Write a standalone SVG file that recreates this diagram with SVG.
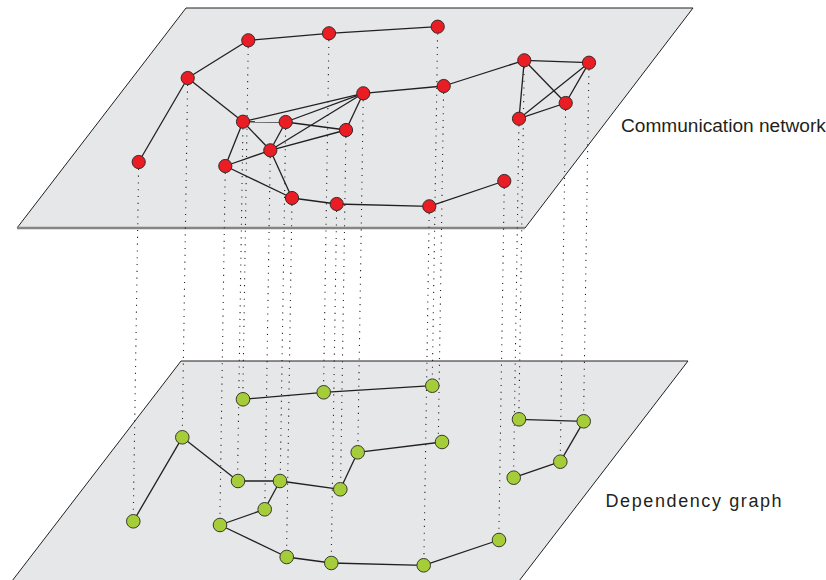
<svg xmlns="http://www.w3.org/2000/svg" width="826" height="580" viewBox="0 0 826 580">
  <style>
    .plane { fill: #e6e7e8; stroke: #231f20; stroke-width: 1; }
    .rim { stroke: #858585; stroke-width: 2.6; fill: none; }
    .edge { stroke: #231f20; stroke-width: 1.3; fill: none; }
    .link { stroke: #231f20; stroke-width: 1.1; stroke-dasharray: 1.1 5.7; fill: none; }
    .comm { fill: #ea1c24; stroke: #3a2a2a; stroke-width: 1; }
    .dep { fill: #a5cd39; stroke: #3a3a2a; stroke-width: 1; }
    .label { font-family: "Liberation Sans", Arial, sans-serif; fill: #231f20; }
  </style>

  <!-- layers -->
  <g id="planes">
    <polygon class="plane" points="181,361 688,361 519,581 12,581"/>
    <polygon class="plane" points="186,8 693,8 525,228 17,228"/>
    <line class="rim" x1="17" y1="228" x2="525" y2="228"/>
  </g>

  <!-- vertical mapping links between the two layers -->
  <g id="mapping" class="link">
    <line x1="248.3" y1="40.3" x2="242.8" y2="399.3"/>
    <line x1="329" y1="33.3" x2="323.5" y2="392.3"/>
    <line x1="437.7" y1="26.7" x2="432.2" y2="385.7"/>
    <line x1="187.7" y1="78" x2="182.2" y2="437"/>
    <line x1="138.7" y1="162" x2="133.2" y2="521"/>
    <line x1="363.3" y1="93.3" x2="357.8" y2="452.3"/>
    <line x1="443.7" y1="86" x2="438.2" y2="445"/>
    <line x1="243" y1="121.7" x2="237.5" y2="480.7"/>
    <line x1="285.7" y1="122" x2="280.2" y2="481"/>
    <line x1="346" y1="130" x2="340.5" y2="489"/>
    <line x1="270.3" y1="150.3" x2="264.8" y2="509.3"/>
    <line x1="225.3" y1="166" x2="219.8" y2="525"/>
    <line x1="292" y1="198" x2="286.5" y2="557"/>
    <line x1="336.7" y1="204" x2="331.2" y2="563"/>
    <line x1="429.3" y1="206.3" x2="423.8" y2="565.3"/>
    <line x1="524.3" y1="60.3" x2="518.8" y2="419.3"/>
    <line x1="589" y1="62.7" x2="583.5" y2="421.7"/>
    <line x1="565.7" y1="103" x2="560.2" y2="462"/>
    <line x1="519" y1="118.7" x2="513.5" y2="477.7"/>
    <line x1="504.3" y1="181" x2="498.8" y2="540"/>
  </g>

  <!-- connectors of the communication network -->
  <g id="comm-edges" class="edge">
    <line x1="248.3" y1="40.3" x2="329" y2="33.3"/>
    <line x1="329" y1="33.3" x2="437.7" y2="26.7"/>
    <line x1="187.7" y1="78" x2="248.3" y2="40.3"/>
    <line x1="187.7" y1="78" x2="138.7" y2="162"/>
    <line x1="187.7" y1="78" x2="243" y2="121.7"/>
    <line x1="363.3" y1="93.3" x2="443.7" y2="86"/>
    <line x1="443.7" y1="86" x2="524.3" y2="60.3"/>
    <line x1="243" y1="121.7" x2="285.7" y2="122"/>
    <line x1="243" y1="121.7" x2="363.3" y2="93.3"/>
    <line x1="243" y1="121.7" x2="225.3" y2="166"/>
    <line x1="243" y1="121.7" x2="270.3" y2="150.3"/>
    <line x1="285.7" y1="122" x2="363.3" y2="93.3"/>
    <line x1="285.7" y1="122" x2="346" y2="130"/>
    <line x1="285.7" y1="122" x2="270.3" y2="150.3"/>
    <line x1="270.3" y1="150.3" x2="363.3" y2="93.3"/>
    <line x1="270.3" y1="150.3" x2="346" y2="130"/>
    <line x1="346" y1="130" x2="363.3" y2="93.3"/>
    <line x1="225.3" y1="166" x2="270.3" y2="150.3"/>
    <line x1="225.3" y1="166" x2="292" y2="198"/>
    <line x1="270.3" y1="150.3" x2="292" y2="198"/>
    <line x1="292" y1="198" x2="336.7" y2="204"/>
    <line x1="336.7" y1="204" x2="429.3" y2="206.3"/>
    <line x1="429.3" y1="206.3" x2="504.3" y2="181"/>
    <line x1="524.3" y1="60.3" x2="589" y2="62.7"/>
    <line x1="524.3" y1="60.3" x2="519" y2="118.7"/>
    <line x1="524.3" y1="60.3" x2="565.7" y2="103"/>
    <line x1="589" y1="62.7" x2="565.7" y2="103"/>
    <line x1="589" y1="62.7" x2="519" y2="118.7"/>
    <line x1="519" y1="118.7" x2="565.7" y2="103"/>
  </g>

  <!-- connectors of the dependency graph -->
  <g id="dep-edges" class="edge">
    <line x1="243" y1="399.3" x2="323.7" y2="392.3"/>
    <line x1="323.7" y1="392.3" x2="432.3" y2="385.7"/>
    <line x1="182.3" y1="437.3" x2="133.3" y2="521.3"/>
    <line x1="182.3" y1="437.3" x2="238" y2="481"/>
    <line x1="238" y1="481" x2="280" y2="481"/>
    <line x1="280" y1="481" x2="340.3" y2="489.3"/>
    <line x1="340.3" y1="489.3" x2="357.7" y2="452.3"/>
    <line x1="357.7" y1="452.3" x2="442" y2="442"/>
    <line x1="280" y1="481" x2="264.7" y2="509.3"/>
    <line x1="264.7" y1="509.3" x2="220" y2="525"/>
    <line x1="220" y1="525" x2="286.7" y2="557"/>
    <line x1="286.7" y1="557" x2="331.3" y2="563"/>
    <line x1="331.3" y1="563" x2="423.7" y2="565.3"/>
    <line x1="423.7" y1="565.3" x2="499" y2="540"/>
    <line x1="519" y1="419.3" x2="583.7" y2="421.3"/>
    <line x1="583.7" y1="421.3" x2="560.3" y2="461.7"/>
    <line x1="560.3" y1="461.7" x2="513.7" y2="477.7"/>
  </g>

  <!-- communication network nodes -->
  <g id="comm-nodes" class="comm">
    <g id="cA"><circle cx="248.3" cy="40.3" r="6.6"/></g>
    <g id="cB"><circle cx="329" cy="33.3" r="6.6"/></g>
    <g id="cC"><circle cx="437.7" cy="26.7" r="6.6"/></g>
    <g id="cD"><circle cx="187.7" cy="78" r="6.6"/></g>
    <g id="cE"><circle cx="138.7" cy="162" r="6.6"/></g>
    <g id="cF"><circle cx="363.3" cy="93.3" r="6.6"/></g>
    <g id="cG"><circle cx="443.7" cy="86" r="6.6"/></g>
    <g id="cH"><circle cx="243" cy="121.7" r="6.6"/></g>
    <g id="cI"><circle cx="285.7" cy="122" r="6.6"/></g>
    <g id="cJ"><circle cx="346" cy="130" r="6.6"/></g>
    <g id="cK"><circle cx="270.3" cy="150.3" r="6.6"/></g>
    <g id="cL"><circle cx="225.3" cy="166" r="6.6"/></g>
    <g id="cM"><circle cx="292" cy="198" r="6.6"/></g>
    <g id="cN"><circle cx="336.7" cy="204" r="6.6"/></g>
    <g id="cO"><circle cx="429.3" cy="206.3" r="6.6"/></g>
    <g id="cP"><circle cx="524.3" cy="60.3" r="6.6"/></g>
    <g id="cQ"><circle cx="589" cy="62.7" r="6.6"/></g>
    <g id="cR"><circle cx="565.7" cy="103" r="6.6"/></g>
    <g id="cS"><circle cx="519" cy="118.7" r="6.6"/></g>
    <g id="cT"><circle cx="504.3" cy="181" r="6.6"/></g>
  </g>

  <!-- dependency graph nodes -->
  <g id="dep-nodes" class="dep">
    <g id="dA"><circle cx="243" cy="399.3" r="6.8"/></g>
    <g id="dB"><circle cx="323.7" cy="392.3" r="6.8"/></g>
    <g id="dC"><circle cx="432.3" cy="385.7" r="6.8"/></g>
    <g id="dD"><circle cx="182.3" cy="437.3" r="6.8"/></g>
    <g id="dE"><circle cx="133.3" cy="521.3" r="6.8"/></g>
    <g id="dF"><circle cx="357.7" cy="452.3" r="6.8"/></g>
    <g id="dG"><circle cx="442" cy="442" r="6.8"/></g>
    <g id="dH"><circle cx="238" cy="481" r="6.8"/></g>
    <g id="dI"><circle cx="280" cy="481" r="6.8"/></g>
    <g id="dJ"><circle cx="340.3" cy="489.3" r="6.8"/></g>
    <g id="dK"><circle cx="264.7" cy="509.3" r="6.8"/></g>
    <g id="dL"><circle cx="220" cy="525" r="6.8"/></g>
    <g id="dM"><circle cx="286.7" cy="557" r="6.8"/></g>
    <g id="dN"><circle cx="331.3" cy="563" r="6.8"/></g>
    <g id="dO"><circle cx="423.7" cy="565.3" r="6.8"/></g>
    <g id="dP"><circle cx="519" cy="419.3" r="6.8"/></g>
    <g id="dQ"><circle cx="583.7" cy="421.3" r="6.8"/></g>
    <g id="dR"><circle cx="560.3" cy="461.7" r="6.8"/></g>
    <g id="dS"><circle cx="513.7" cy="477.7" r="6.8"/></g>
    <g id="dT"><circle cx="499" cy="540" r="6.8"/></g>
  </g>

  <!-- layer titles -->
  <g id="labels">
    <text class="label" x="621" y="132.3" font-size="19.1">Communication network</text>
    <text class="label" x="605.5" y="507.3" font-size="18" letter-spacing="1.6">Dependency graph</text>
  </g>
</svg>
